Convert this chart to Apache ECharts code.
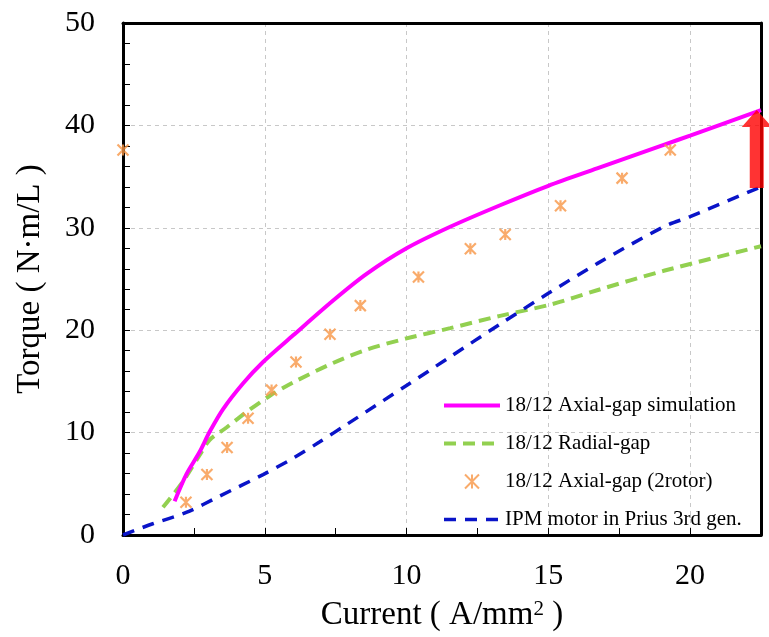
<!DOCTYPE html>
<html>
<head>
<meta charset="utf-8">
<script src="https://cdn.jsdelivr.net/npm/echarts@6/dist/echarts.min.js"></script>
<style>
  html, body { margin: 0; padding: 0; background: #fff; }
  #chart { width: 769px; height: 637px; }
</style>
</head>
<body>
<div id="chart"></div>
<script>
// values: [current A/mm2, torque N·m/L]
var axialSim = [[1.82,3.3],[2.23,5.9],[2.7,8.1],[3.06,10.1],[3.53,12.3],[4.23,14.8],[4.94,16.9],
  [6.0,19.5],[7.41,22.9],[8.59,25.5],[10,28.0],[11.54,30.1],[13.3,32.2],[15.0,34.1],
  [16.72,35.8],[19.07,38.1],[20,39.0],[22.5,41.5]];
var radialGap = [[1.41,2.7],[2.11,5.2],[2.7,7.8],[3.06,9.3],[3.65,10.5],[4.35,12.0],[5.18,13.6],
  [6.0,14.9],[7.41,16.8],[8.59,18.1],[10,19.2],[11.54,20.2],[13.3,21.4],[15.07,22.5],
  [16.72,23.9],[19.07,25.8],[22.5,28.2]];
var axial2Rotor = [[0,37.6],[2.22,3.2],[2.96,5.9],[3.67,8.55],[4.41,11.4],[5.24,14.15],[6.1,16.9],
  [7.3,19.6],[8.37,22.4],[10.42,25.2],[12.25,27.95],[13.48,29.35],[15.43,32.15],[17.6,34.85],
  [19.3,37.6]];
var ipmPrius = [[0,0],[1.05,1.1],[2.23,2.2],[3.41,3.8],[4.94,5.9],[6.0,7.5],[6.94,9.1],[7.89,10.8],
  [10,14.6],[11.54,17.4],[13.3,20.6],[15.0,23.6],[16.72,26.5],[19.07,30.1],[20,31.1],[22.5,34.0]];
var arrowAt = [[22.35, 37.7]];

var seriesNames = ['18/12 Axial-gap simulation', '18/12 Radial-gap', '18/12 Axial-gap (2rotor)', 'IPM motor in Prius 3rd gen.'];
var xTicks = { min: 0, max: 22.5, interval: 5 };
var yTicks = { min: 0, max: 50, interval: 10 };

var serif = "'Liberation Serif', 'Times New Roman', serif";
var starPath = 'path://M0 0 L10 10 M10 0 L0 10 M5 0 L5 10';
var arrowPath = 'path://M15 0 L30 17 L22 17 L22 78 L8 78 L8 17 L0 17 Z';

var chart = echarts.init(document.getElementById('chart'));
var gridLine = { show: true, lineStyle: { color: '#c8c8c8', width: 1, type: [4, 4] } };
var frameLine = { show: true, onZero: false, lineStyle: { color: '#000', width: 3 } };
var hiddenAxis = { axisTick: { show: false }, axisLabel: { show: false }, splitLine: { show: false } };

function curve(idx, data, color, width, dash, z) {
  return {
    name: seriesNames[idx], type: 'line', data: data, smooth: 0.3,
    showSymbol: false, symbol: 'none',
    lineStyle: { color: color, width: width, type: dash },
    itemStyle: { color: 'rgba(0,0,0,0)', borderWidth: 0 }, z: z
  };
}

chart.setOption({
  animation: false,
  backgroundColor: '#fff',
  grid: { left: 123, right: 8, top: 23, bottom: 96 },
  legend: {
    data: [
      { name: seriesNames[0], lineStyle: { width: 4 } },
      { name: seriesNames[1], lineStyle: { width: 4 } },
      { name: seriesNames[2] },
      { name: seriesNames[3], lineStyle: { width: 3.5 } }
    ],
    orient: 'vertical',
    left: 437, top: 390,
    itemWidth: 56, itemHeight: 14, itemGap: 17,
    textStyle: { fontFamily: serif, fontSize: 21, color: '#000' }
  },
  xAxis: [{
    type: 'value', min: xTicks.min, max: xTicks.max, interval: xTicks.interval,
    name: 'Current ( A/mm{sup|2} )', nameLocation: 'middle', nameGap: 64,
    nameTextStyle: { fontFamily: serif, fontSize: 33, color: '#000',
      rich: { sup: { fontFamily: serif, fontSize: 21, verticalAlign: 'top', padding: [0, 0, 12, 0] } } },
    axisLine: frameLine,
    axisTick: { show: true, inside: true, length: 7, lineStyle: { color: '#000', width: 1 } },
    minorTick: { show: true, splitNumber: 2, length: 7, lineStyle: { color: '#000', width: 1 } },
    axisLabel: { fontFamily: serif, fontSize: 30, color: '#000', margin: 26, showMaxLabel: false },
    splitLine: gridLine
  }, Object.assign({
    type: 'value', position: 'top', min: xTicks.min, max: xTicks.max, interval: xTicks.interval,
    axisLine: frameLine
  }, hiddenAxis)],
  yAxis: [{
    type: 'value', min: yTicks.min, max: yTicks.max, interval: yTicks.interval,
    name: 'Torque ( N·m/L )', nameLocation: 'middle', nameGap: 76, nameRotate: 90,
    nameTextStyle: { fontFamily: serif, fontSize: 33, color: '#000' },
    axisLine: frameLine,
    axisTick: { show: true, inside: true, length: 7, lineStyle: { color: '#000', width: 1 } },
    minorTick: { show: true, splitNumber: 5, length: 7, lineStyle: { color: '#000', width: 1 } },
    axisLabel: { fontFamily: serif, fontSize: 30, color: '#000', margin: 28 },
    splitLine: gridLine
  }, Object.assign({
    type: 'value', position: 'right', min: yTicks.min, max: yTicks.max, interval: yTicks.interval,
    axisLine: frameLine
  }, hiddenAxis)],
  series: [
    curve(0, axialSim, '#ff00ff', 4, 'solid', 4),
    curve(1, radialGap, '#92d050', 4, [12, 7], 3),
    {
      name: seriesNames[2], type: 'scatter', data: axial2Rotor, symbol: starPath, symbolSize: 11,
      itemStyle: { color: 'rgba(0,0,0,0)', borderColor: '#f79646', borderWidth: 2.2 }, z: 5
    },
    curve(3, ipmPrius, '#0a14c8', 3.5, [12, 9], 3),
    {
      name: 'arrow', type: 'scatter', data: arrowAt, symbol: arrowPath, symbolSize: [30, 78],
      symbolKeepAspect: false, silent: true, clip: false,
      itemStyle: { color: '#ff0000' }, z: 10
    }
  ]
});
</script>
</body>
</html>
